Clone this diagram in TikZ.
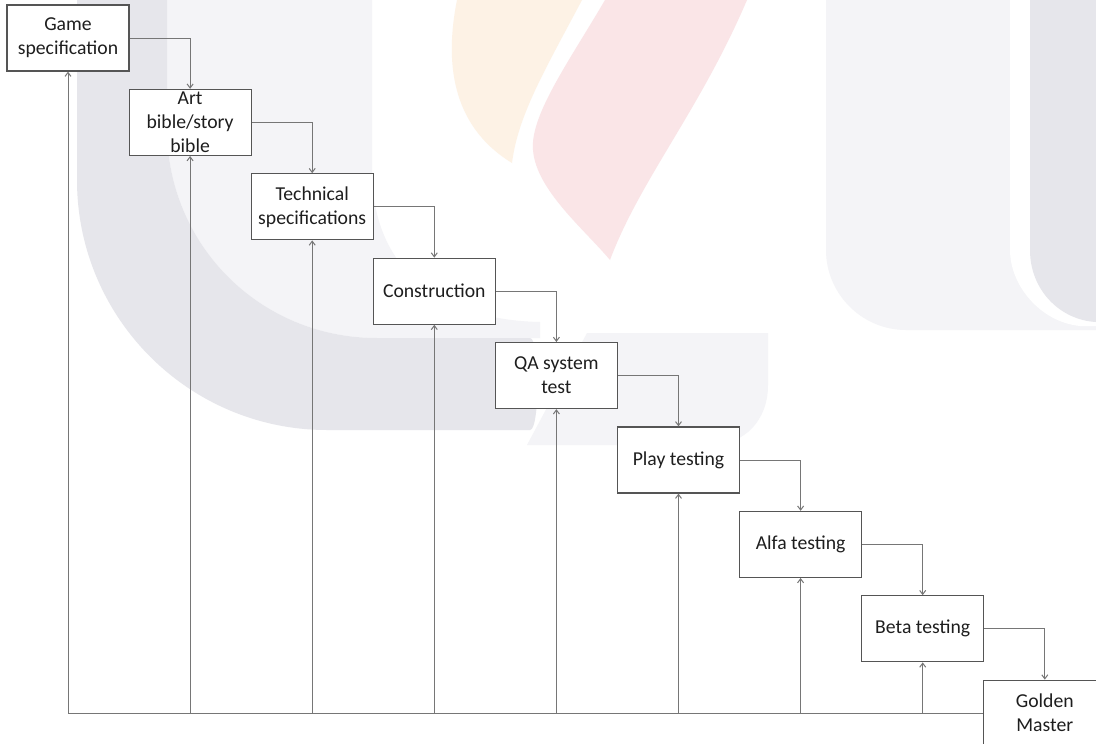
\documentclass[tikz,border=0pt]{standalone}
\usepackage{fontspec}
\setmainfont{Carlito}
\usetikzlibrary{arrows.meta}
\definecolor{wmdark}{HTML}{E6E6EB}
\definecolor{wmlight}{HTML}{F4F4F7}
\definecolor{wmpeach}{HTML}{FDF2E5}
\definecolor{wmpink}{HTML}{FAE5E7}
\definecolor{boxgray}{HTML}{555555}
\definecolor{linegray}{HTML}{767676}
\definecolor{textcol}{HTML}{1E1E1E}
\begin{document}
\begin{tikzpicture}[x=1pt,y=-1pt,
  stage/.style={draw=boxgray, line width=1.2pt, fill=white,
    minimum width=122pt, minimum height=66pt, inner sep=0pt, align=center,
    font=\fontsize{19.7}{24}\selectfont, text=textcol},
  flow/.style={draw=linegray, line width=1pt,
    -{Straight Barb[length=4pt,width=6pt]}}]
\useasboundingbox (0,0) rectangle (1096,744);
\clip (0,0) rectangle (1096,744);
\fill[white] (0,0) rectangle (1096,744);

% faint emblem in the background
% inner light band
\fill[wmlight] (167,0) -- (372,0) -- (372,170)
  .. controls (372,270) and (440,320) .. (540,322) -- (540,338) -- (377,338)
  .. controls (260,338) and (167,245) .. (167,128) -- cycle;
% dark curved band
\fill[wmdark] (77,0) -- (77,180)
  .. controls (77,318) and (189,430) .. (327,430) -- (530,430)
  .. controls (540,430) and (540,338) .. (530,338) -- (377,338)
  .. controls (260,338) and (167,245) .. (167,128) -- (167,0) -- cycle;
% light block beside the band
\fill[wmlight] (587,333) -- (768,333) -- (768,385)
  .. controls (768,420) and (745,445) .. (710,445) -- (527,445) -- cycle;
% right-hand columns
\fill[wmlight] (826,0) -- (826,250) .. controls (826,294) and (862,330) .. (906,330)
  -- (1096,330) -- (1096,0) -- cycle;
\fill[white] (1010,0) -- (1010,250) .. controls (1010,285) and (1040,322) .. (1080,326)
  -- (1096,326) -- (1096,0) -- cycle;
\fill[wmdark] (1030,0) -- (1030,250) .. controls (1030,290) and (1060,320) .. (1096,322)
  -- (1096,0) -- cycle;
% flame strokes
\fill[wmpeach] (457,0) .. controls (445,60) and (450,125) .. (512,163)
  .. controls (518,115) and (545,70) .. (582,0) -- cycle;
\fill[wmpink] (605,0) .. controls (570,60) and (530,115) .. (533,150)
  .. controls (536,190) and (585,230) .. (610,260)
  .. controls (640,180) and (700,110) .. (747,0) -- cycle;

% process stages
\node[stage] (gs) at (68,38)       {Game\\specification};
\node[stage] (ab) at (190.1,122.4) {Art\\bible/story\\bible};
\node[stage] (ts) at (312.2,206.8) {Technical\\specifications};
\node[stage] (co) at (434.3,291.2) {Construction};
\node[stage] (qa) at (556.4,375.6) {QA system\\test};
\node[stage] (pt) at (678.5,460)   {Play testing};
\node[stage] (at) at (800.6,544.4) {Alfa testing};
\node[stage] (bt) at (922.7,628.8) {Beta testing};
\node[stage] (gm) at (1044.8,713.2) {Golden\\Master};

% forward flow between stages
\draw[flow] (gs.east) -| (ab.north);
\draw[flow] (ab.east) -| (ts.north);
\draw[flow] (ts.east) -| (co.north);
\draw[flow] (co.east) -| (qa.north);
\draw[flow] (qa.east) -| (pt.north);
\draw[flow] (pt.east) -| (at.north);
\draw[flow] (at.east) -| (bt.north);
\draw[flow] (bt.east) -| (gm.north);

% feedback lines from the bottom rail
\draw[flow] (gm.west) -| (gs.south);
\foreach \s in {ab,ts,co,qa,pt,at,bt}
  \draw[flow] (\s.south |- gm.west) -- (\s.south);
\end{tikzpicture}
\end{document}
